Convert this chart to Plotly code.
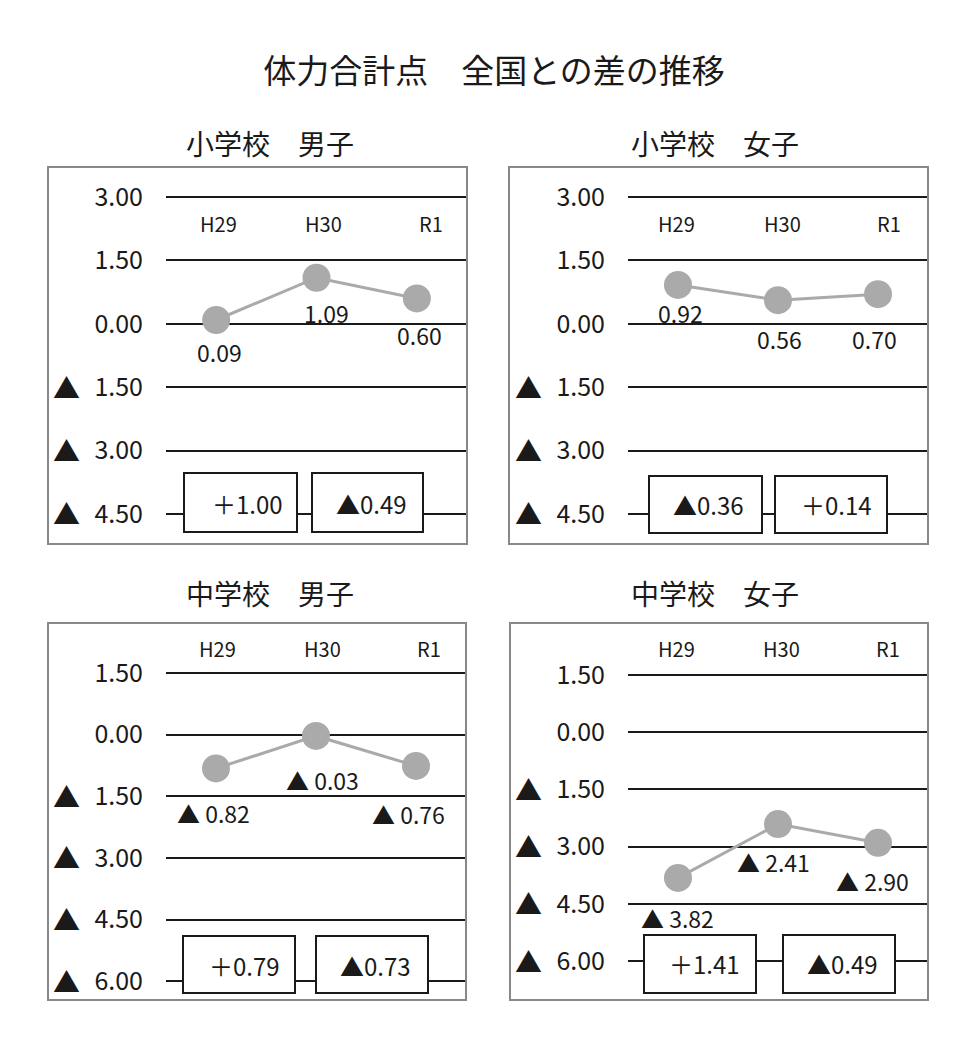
import plotly.graph_objects as go

# ---------------- data ----------------
categories = ["H29", "H30", "R1"]
panel_titles = ["小学校　男子", "小学校　女子", "中学校　男子", "中学校　女子"]
elem_boys = [0.09, 1.09, 0.60]
elem_girls = [0.92, 0.56, 0.70]
jhs_boys = [-0.82, -0.03, -0.76]
jhs_girls = [-3.82, -2.41, -2.90]
ticks_elem = [3.0, 1.5, 0.0, -1.5, -3.0, -4.5]
ticks_jhs = [1.5, 0.0, -1.5, -3.0, -4.5, -6.0]
main_title = "体力合計点　全国との差の推移"

series = [elem_boys, elem_girls, jhs_boys, jhs_girls]
ticks = [ticks_elem, ticks_elem, ticks_jhs, ticks_jhs]

# ---------------- layout geometry (page pixels) ----------------
W, H = 977, 1051
OFF = 8  # default page margin around the figure
FONT = "Noto Sans CJK JP"
GRAY = "#aaaaaa"
INK = "#1a1a1a"


def fx(px):
    return (px - OFF) / W


def fy(py):
    return 1 - (py - OFF) / H


panels = [
    dict(plot=(166, 467, 167, 544), outer_left=48, yrange=(-5.21, 3.71),
         title=(270, 143), cat_y=223, cat_dx=[2, 7, 14],
         lab=[(3, 32), (10, 35), (3, 37)],
         boxes=[(184, 297), (312, 423)], box_y=(473, 532),
         box_text=[(247, 503), (371, 503)]),
    dict(plot=(628, 928, 167, 544), outer_left=509, yrange=(-5.21, 3.71),
         title=(715, 143), cat_y=223, cat_dx=[-2, 4, 11],
         lab=[(2, 28), (1, 39), (-4, 45)],
         boxes=[(649, 762), (775, 887)], box_y=(476, 533),
         box_text=[(708, 504), (836, 504)]),
    dict(plot=(166, 466, 623, 1000), outer_left=48, yrange=(-6.46, 2.72),
         title=(270, 593), cat_y=648, cat_dx=[1, 6, 13],
         lab=[(-3, 45), (6, 44), (-8, 48)],
         boxes=[(183, 295), (316, 428)], box_y=(936, 993),
         box_text=[(244, 965), (375, 965)]),
    dict(plot=(628, 928, 623, 1000), outer_left=510, yrange=(-7.02, 2.86),
         title=(715, 593), cat_y=648, cat_dx=[-2, 3, 10],
         lab=[(-1, 40), (-5, 38), (-6, 38)],
         boxes=[(644, 756), (783, 895)], box_y=(935, 993),
         box_text=[(704, 963), (842, 963)]),
]


def fmt_point(v):
    return f"{v:.2f}" if v >= 0 else f"▲ {abs(v):.2f}"


def fmt_diff(d):
    d = round(d, 2)
    return f"＋{d:.2f}" if d >= 0 else f"▲{abs(d):.2f}"


fig = go.Figure()
annotations = []
shapes = []
layout_axes = {}

for i, (p, vals, tv) in enumerate(zip(panels, series, ticks)):
    n = i + 1
    xa = "x" if n == 1 else f"x{n}"
    ya = "y" if n == 1 else f"y{n}"
    xk = "xaxis" if n == 1 else f"xaxis{n}"
    yk = "yaxis" if n == 1 else f"yaxis{n}"
    x0, x1, y0, y1 = p["plot"]

    fig.add_trace(go.Scatter(
        x=list(range(len(categories))), y=vals, mode="lines+markers",
        line=dict(color=GRAY, width=3),
        marker=dict(color=GRAY, size=28, line=dict(width=0)),
        xaxis=xa, yaxis=ya, showlegend=False, hoverinfo="skip",
        cliponaxis=False,
    ))

    layout_axes[xk] = dict(
        domain=[fx(x0), fx(x1)], range=[-0.5, 2.5], showgrid=False,
        zeroline=False, showticklabels=False, showline=False, fixedrange=True,
        anchor=ya,
    )
    layout_axes[yk] = dict(
        domain=[fy(y1), fy(y0)], range=list(p["yrange"]),
        tickvals=tv, ticktext=[f"{abs(t):.2f}" for t in tv],
        tickfont=dict(size=25, color=INK, family=FONT),
        ticklabelstandoff=22,
        showgrid=True, gridcolor=INK, gridwidth=2, zeroline=False,
        showline=False, ticks="", fixedrange=True, anchor=xa,
    )

    # ▲ markers for negative tick values
    for t in tv:
        if t < 0:
            annotations.append(dict(
                x=fx(x0 - 100), y=t, xref="paper", yref=ya, text="▲",
                showarrow=False, xanchor="center", yanchor="middle",
                font=dict(size=27, color=INK, family=FONT),
            ))

    # outer panel frame
    shapes.append(dict(
        type="rect", xref="paper", yref="paper",
        x0=fx(p["outer_left"]), x1=fx(x1), y0=fy(y1), y1=fy(y0),
        line=dict(color="#888888", width=2), fillcolor="rgba(0,0,0,0)",
        layer="above",
    ))

    # panel title
    annotations.append(dict(
        x=fx(p["title"][0]), y=fy(p["title"][1]), xref="paper", yref="paper",
        text=panel_titles[i], showarrow=False, xanchor="center",
        yanchor="middle", font=dict(size=28, color=INK, family=FONT),
    ))

    # category labels
    for j, c in enumerate(categories):
        annotations.append(dict(
            x=j, y=fy(p["cat_y"]), xref=xa, yref="paper", text=c,
            showarrow=False, xanchor="center", yanchor="middle",
            xshift=p["cat_dx"][j],
            font=dict(size=20, color=INK, family=FONT),
        ))

    # data labels
    for j, v in enumerate(vals):
        dx, dy = p["lab"][j]
        annotations.append(dict(
            x=j, y=v, xref=xa, yref=ya, text=fmt_point(v), showarrow=False,
            xanchor="center", yanchor="middle", xshift=dx, yshift=-dy,
            font=dict(size=23, color=INK, family=FONT),
        ))

    # difference boxes
    by0, by1 = p["box_y"]
    for k in range(len(vals) - 1):
        bx0, bx1 = p["boxes"][k]
        shapes.append(dict(
            type="rect", xref="paper", yref="paper",
            x0=fx(bx0), x1=fx(bx1), y0=fy(by1), y1=fy(by0),
            line=dict(color=INK, width=2), fillcolor="white", layer="above",
        ))
        tx, ty = p["box_text"][k]
        annotations.append(dict(
            x=fx(tx), y=fy(ty), xref="paper", yref="paper",
            text=fmt_diff(vals[k + 1] - vals[k]), showarrow=False,
            xanchor="center", yanchor="middle",
            font=dict(size=24, color=INK, family=FONT),
        ))

fig.update_layout(
    width=W, height=H,
    margin=dict(l=0, r=0, t=0, b=0),
    paper_bgcolor="white", plot_bgcolor="white",
    font=dict(family=FONT, color=INK),
    title=dict(text=main_title, x=fx(494), y=fy(71), xref="paper",
               yref="paper", xanchor="center", yanchor="middle",
               font=dict(size=33, color=INK, family=FONT)),
    annotations=annotations, shapes=shapes,
    **layout_axes,
)

fig.write_html("out.html")
